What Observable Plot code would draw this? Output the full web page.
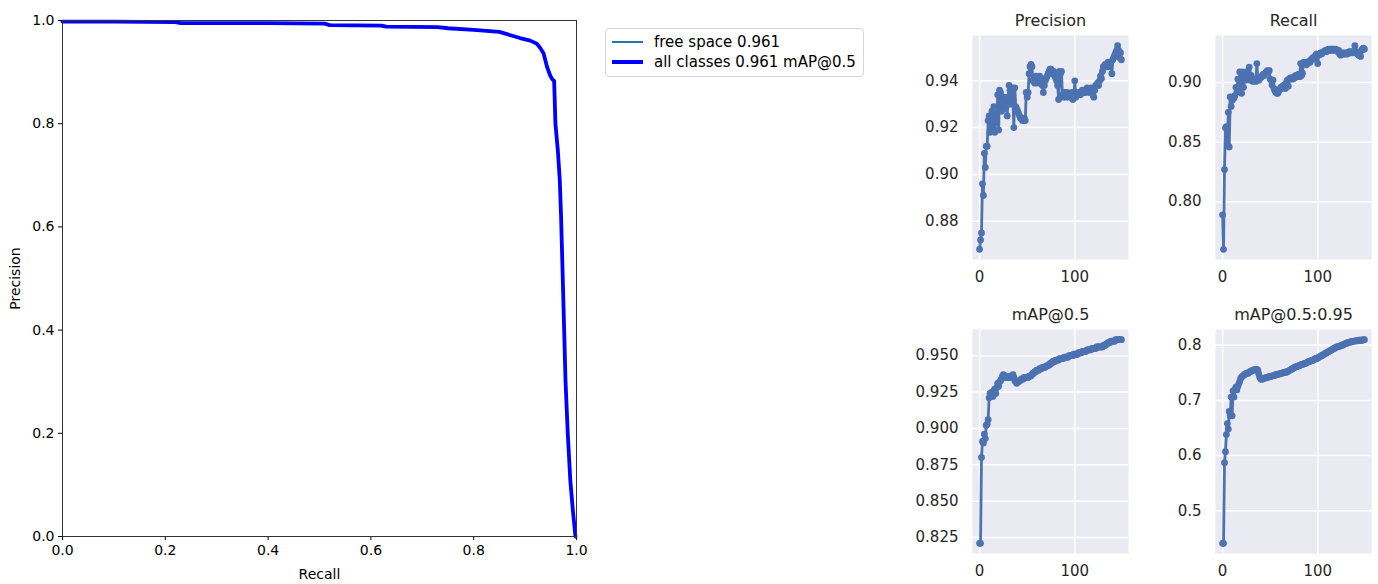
<!DOCTYPE html>
<html>
<head>
<meta charset="utf-8">
<script src="https://cdn.jsdelivr.net/npm/d3@7"></script>
<script src="https://cdn.jsdelivr.net/npm/@observablehq/plot@0.6"></script>
<style>
  html, body { margin: 0; padding: 0; background: #ffffff; overflow: hidden; }
  #root { position: relative; width: 1378px; height: 584px; font-family: "DejaVu Sans", sans-serif; }
  .abs { position: absolute; }
  #legend { position: absolute; left: 605px; top: 28px; width: 259px; height: 49px; box-sizing: border-box;
            border: 1px solid #d6d6d6; border-radius: 4px; background: #fff; font-size: 15px; color: #000; }
  .lg-line { position: absolute; left: 6px; width: 31px; }
  .lg-text { position: absolute; left: 48px; white-space: nowrap; line-height: 1; }
</style>
</head>
<body>
<div id="root"></div>
<script>
// ---- PR curve (left) ----
const prRecall = [0, 0.10, 0.22, 0.23, 0.40, 0.51, 0.52, 0.62, 0.63, 0.73, 0.75, 0.80, 0.85, 0.87, 0.89, 0.91,
  0.923, 0.930, 0.936, 0.943, 0.949, 0.953, 0.9565, 0.959, 0.9637, 0.9675, 0.970, 0.9734, 0.976, 0.9786,
  0.983, 0.988, 0.993, 0.998];
const prPrecision = [0.998, 0.998, 0.997, 0.995, 0.995, 0.994, 0.991, 0.990, 0.988, 0.987, 0.985, 0.982, 0.978, 0.972, 0.966, 0.961,
  0.955, 0.946, 0.936, 0.909, 0.893, 0.886, 0.883, 0.800, 0.748, 0.690, 0.620, 0.496, 0.400, 0.302,
  0.200, 0.108, 0.050, 0.0];
const prTicks = [0, 0.2, 0.4, 0.6, 0.8, 1.0];
const legendLabels = ["free space 0.961", "all classes 0.961 mAP@0.5"];

// ---- training curves (right), epochs 0..149 ----
const precision = [
  0.868, 0.872, 0.875, 0.896, 0.891, 0.909, 0.903, 0.912, 0.912, 0.923,
  0.925, 0.918, 0.924, 0.927, 0.920, 0.929, 0.918, 0.926, 0.922, 0.934,
  0.919, 0.936, 0.935, 0.927, 0.930, 0.928, 0.933, 0.932, 0.929, 0.925,
  0.933, 0.938, 0.936, 0.930, 0.937, 0.932, 0.920, 0.937, 0.929, 0.928,
  0.927, 0.926, 0.925, 0.924, 0.924, 0.923, 0.923, 0.924, 0.923, 0.935,
  0.933, 0.935, 0.943, 0.946, 0.947, 0.946, 0.940, 0.941, 0.939, 0.942,
  0.940, 0.941, 0.939, 0.942, 0.940, 0.941, 0.938, 0.935, 0.938, 0.940,
  0.941, 0.942, 0.943, 0.944, 0.945, 0.945, 0.944, 0.943, 0.944, 0.942,
  0.941, 0.940, 0.938, 0.932, 0.944, 0.943, 0.944, 0.934, 0.933, 0.935,
  0.934, 0.933, 0.935, 0.934, 0.933, 0.934, 0.933, 0.935, 0.932, 0.933,
  0.940, 0.933, 0.934, 0.935, 0.934, 0.935, 0.934, 0.935, 0.936, 0.935,
  0.936, 0.935, 0.936, 0.937, 0.936, 0.935, 0.936, 0.937, 0.935, 0.934,
  0.933, 0.936, 0.938, 0.938, 0.939, 0.938, 0.940, 0.942, 0.941, 0.944,
  0.946, 0.946, 0.947, 0.946, 0.947, 0.948, 0.946, 0.947, 0.948, 0.943,
  0.949, 0.950, 0.951, 0.952, 0.953, 0.955, 0.953, 0.950, 0.952, 0.949];
const recall = [
  0.789, 0.760, 0.827, 0.862, 0.863, 0.847, 0.875, 0.846, 0.888, 0.880,
  0.885, 0.888, 0.887, 0.889, 0.896, 0.892, 0.903, 0.896, 0.909, 0.902,
  0.891, 0.909, 0.896, 0.904, 0.902, 0.906, 0.904, 0.910, 0.913, 0.902,
  0.906, 0.902, 0.901, 0.903, 0.902, 0.901, 0.916, 0.903, 0.902, 0.904,
  0.904, 0.905, 0.906, 0.907, 0.906, 0.908, 0.909, 0.910, 0.909, 0.910,
  0.903, 0.902, 0.898, 0.902, 0.895, 0.893, 0.892, 0.891, 0.891, 0.893,
  0.894, 0.896, 0.895, 0.897, 0.896, 0.898, 0.895, 0.900, 0.902, 0.897,
  0.903, 0.904, 0.903, 0.904, 0.903, 0.905, 0.904, 0.906, 0.905, 0.906,
  0.907, 0.905, 0.916, 0.906, 0.908, 0.917, 0.916, 0.917, 0.915, 0.916,
  0.917, 0.918, 0.917, 0.919, 0.920, 0.921, 0.920, 0.922, 0.923, 0.924,
  0.916, 0.923, 0.924, 0.925, 0.924, 0.925, 0.926, 0.926, 0.927, 0.926,
  0.927, 0.928, 0.927, 0.928, 0.928, 0.927, 0.928, 0.928, 0.927, 0.928,
  0.927, 0.926, 0.927, 0.924, 0.923, 0.924, 0.925, 0.924, 0.925, 0.924,
  0.925, 0.924, 0.925, 0.926, 0.925, 0.926, 0.925, 0.926, 0.925, 0.931,
  0.925, 0.926, 0.924, 0.923, 0.925, 0.922, 0.927, 0.928, 0.929, 0.928];
const map50 = [
  0.821, 0.821, 0.880, 0.891, 0.890, 0.896, 0.893, 0.902, 0.903, 0.906,
  0.921, 0.924, 0.922, 0.925, 0.922, 0.926, 0.927, 0.924, 0.928, 0.931,
  0.929, 0.932, 0.933, 0.934, 0.936, 0.937, 0.936, 0.935, 0.936, 0.935,
  0.935, 0.936, 0.935, 0.936, 0.936, 0.937, 0.935, 0.933, 0.932, 0.931,
  0.932, 0.932, 0.933, 0.933, 0.934, 0.934, 0.934, 0.935, 0.935, 0.935,
  0.935, 0.935, 0.936, 0.936, 0.936, 0.937, 0.938, 0.938, 0.939, 0.939,
  0.940, 0.940, 0.940, 0.941, 0.941, 0.941, 0.942, 0.942, 0.942, 0.942,
  0.943, 0.943, 0.943, 0.944, 0.944, 0.945, 0.945, 0.946, 0.946, 0.946,
  0.947, 0.947, 0.947, 0.947, 0.948, 0.948, 0.948, 0.948, 0.948, 0.949,
  0.949, 0.949, 0.949, 0.949, 0.950, 0.950, 0.950, 0.950, 0.950, 0.951,
  0.951, 0.951, 0.951, 0.951, 0.952, 0.952, 0.952, 0.952, 0.953, 0.953,
  0.953, 0.953, 0.953, 0.954, 0.954, 0.954, 0.954, 0.954, 0.955, 0.955,
  0.955, 0.955, 0.955, 0.956, 0.956, 0.956, 0.956, 0.956, 0.956, 0.956,
  0.957, 0.957, 0.957, 0.958, 0.958, 0.959, 0.959, 0.959, 0.960, 0.960,
  0.960, 0.960, 0.960, 0.961, 0.961, 0.961, 0.961, 0.961, 0.961, 0.961];
const map5095 = [
  0.441, 0.441, 0.587, 0.607, 0.638, 0.658, 0.648, 0.680, 0.672, 0.706,
  0.672, 0.717, 0.706, 0.720, 0.724, 0.719, 0.725, 0.730, 0.734, 0.740,
  0.742, 0.744, 0.745, 0.747, 0.748, 0.749, 0.750, 0.749, 0.751, 0.752,
  0.753, 0.754, 0.755, 0.755, 0.756, 0.755, 0.756, 0.755, 0.748, 0.742,
  0.739, 0.738, 0.739, 0.740, 0.740, 0.741, 0.741, 0.742, 0.742, 0.743,
  0.743, 0.744, 0.744, 0.745, 0.745, 0.746, 0.746, 0.747, 0.747, 0.748,
  0.748, 0.749, 0.749, 0.750, 0.750, 0.751, 0.751, 0.751, 0.752, 0.753,
  0.754, 0.755, 0.756, 0.757, 0.758, 0.759, 0.760, 0.761, 0.761, 0.762,
  0.763, 0.763, 0.764, 0.765, 0.765, 0.766, 0.767, 0.767, 0.768, 0.769,
  0.770, 0.770, 0.771, 0.772, 0.772, 0.773, 0.774, 0.775, 0.776, 0.776,
  0.777, 0.778, 0.779, 0.780, 0.781, 0.782, 0.783, 0.784, 0.785, 0.786,
  0.787, 0.788, 0.789, 0.790, 0.791, 0.792, 0.793, 0.794, 0.795, 0.796,
  0.797, 0.797, 0.798, 0.798, 0.799, 0.800, 0.800, 0.801, 0.802, 0.803,
  0.803, 0.804, 0.805, 0.805, 0.806, 0.806, 0.807, 0.807, 0.807, 0.808,
  0.808, 0.808, 0.808, 0.809, 0.809, 0.809, 0.809, 0.809, 0.810, 0.810];

const panelTitles = ["Precision", "Recall", "mAP@0.5", "mAP@0.5:0.95"];
const epochTicks = [0, 100];
const precisionTicks = [0.88, 0.90, 0.92, 0.94];
const recallTicks = [0.80, 0.85, 0.90];
const map50Ticks = [0.825, 0.850, 0.875, 0.900, 0.925, 0.950];
const map5095Ticks = [0.5, 0.6, 0.7, 0.8];

const root = document.getElementById("root");

// ---- main PR chart ----
const prData = prRecall.map((r, i) => ({r, p: prPrecision[i]}));
const main = Plot.plot({
  width: 600, height: 584,
  marginLeft: 62, marginRight: 24, marginTop: 20, marginBottom: 48,
  style: {fontFamily: "DejaVu Sans", fontSize: "14px", color: "#000", background: "transparent", overflow: "visible"},
  x: {domain: [0, 1], ticks: prTicks, tickFormat: ".1f", tickSize: 4, tickPadding: 5, label: "Recall", labelAnchor: "center", labelOffset: 42, labelArrow: "none"},
  y: {domain: [0, 1], ticks: prTicks, tickFormat: ".1f", tickSize: 4, tickPadding: 4, label: "Precision", labelAnchor: "center", labelOffset: 52, labelArrow: "none"},
  marks: [
    Plot.line(prData, {x: "r", y: "p", stroke: "#1f77b4", strokeWidth: 1}),
    Plot.line(prData, {x: "r", y: "p", stroke: "#0000ff", strokeWidth: 3.8}),
    Plot.frame({stroke: "#333", strokeWidth: 1})
  ]
});
main.classList.add("abs");
main.style.left = "0px"; main.style.top = "0px";
root.appendChild(main);

// ---- legend ----
const legend = document.createElement("div");
legend.id = "legend";
legend.innerHTML =
  `<div class="lg-line" style="top:12px;height:2px;background:#1f77b4"></div>` +
  `<div class="lg-text" style="top:6px">${legendLabels[0]}</div>` +
  `<div class="lg-line" style="top:31px;height:4px;background:#0000ff"></div>` +
  `<div class="lg-text" style="top:26px">${legendLabels[1]}</div>`;
root.appendChild(legend);

// ---- small panels ----
function panel(values, title, yTicks, yFmt, left, top, width, marginLeft, marginRight) {
  const data = values.map((v, i) => ({e: i, v}));
  const [lo, hi] = d3.extent(values);
  const pad = (hi - lo) * 0.05;
  const n = values.length - 1;
  const chart = Plot.plot({
    width, height: 290,
    marginLeft, marginRight, marginTop: 35, marginBottom: 31,
    style: {fontFamily: "DejaVu Sans", fontSize: "15px", color: "#262626", background: "transparent", overflow: "visible"},
    x: {domain: [-0.05 * n, n * 1.05], ticks: epochTicks, tickSize: 0, tickPadding: 12, label: null},
    y: {domain: [lo - pad, hi + pad], ticks: yTicks, tickFormat: yFmt, tickSize: 0, tickPadding: 14, label: null},
    marks: [
      Plot.frame({fill: "#EAEAF2", stroke: null}),
      Plot.gridX(epochTicks, {stroke: "#ffffff", strokeOpacity: 1, strokeWidth: 1.5}),
      Plot.gridY(yTicks, {stroke: "#ffffff", strokeOpacity: 1, strokeWidth: 1.5}),
      Plot.line(data, {x: "e", y: "v", stroke: "#4C72B0", strokeWidth: 2.8}),
      Plot.dot(data, {x: "e", y: "v", r: 3.4, fill: "#4C72B0", stroke: null}),
      Plot.text([title], {frameAnchor: "top", dy: -10, lineAnchor: "bottom", fontSize: 16, fill: "#262626"})
    ]
  });
  chart.classList.add("abs");
  chart.style.left = left + "px";
  chart.style.top = top + "px";
  root.appendChild(chart);
}

panel(precision, panelTitles[0], precisionTicks, ".2f", 900, 0, 240, 72, 12);
panel(recall, panelTitles[1], recallTicks, ".2f", 1140, 0, 238, 75, 7);
panel(map50, panelTitles[2], map50Ticks, ".3f", 900, 294, 240, 72, 12);
panel(map5095, panelTitles[3], map5095Ticks, ".1f", 1140, 294, 238, 75, 7);
</script>
</body>
</html>
